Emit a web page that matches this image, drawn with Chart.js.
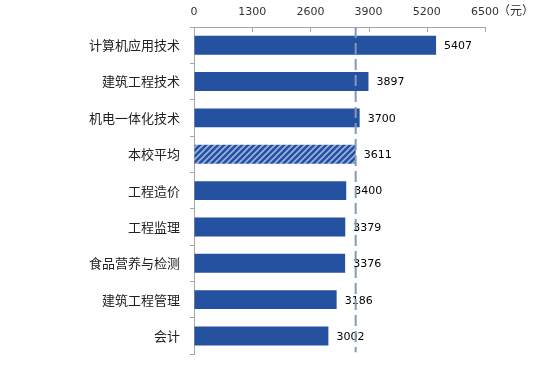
<!DOCTYPE html>
<html>
<head>
<meta charset="utf-8">
<script src="https://cdn.jsdelivr.net/npm/chart.js@4"></script>
<style>
  html, body { margin: 0; padding: 0; background: #fff; }
  #wrap { width: 547px; height: 372px; }
</style>
</head>
<body>
<div id="wrap"><canvas id="myChart"></canvas></div>
<script>
// data
const majors = ['计算机应用技术', '建筑工程技术', '机电一体化技术', '本校平均', '工程造价', '工程监理', '食品营养与检测', '建筑工程管理', '会计'];
const salary = [5407, 3897, 3700, 3611, 3400, 3379, 3376, 3186, 3002];
const avgIndex = 3;
const avgSalary = 3611;
const axisMax = 6500;
const axisStep = 1300;
const unitLabel = '（元）';

const blue = '#2451A0';
const fontCJK = '"Noto Sans CJK SC", "DejaVu Sans", sans-serif';
const fontNum = '"DejaVu Sans", "Liberation Sans", sans-serif';

// striped fill for the average bar
function makeHatch() {
  const c = document.createElement('canvas');
  c.width = 6; c.height = 6;
  const g = c.getContext('2d');
  g.fillStyle = blue;
  g.fillRect(0, 0, 6, 6);
  g.strokeStyle = '#9DB5E0';
  g.lineWidth = 1.6;
  g.beginPath();
  g.moveTo(-1, 7); g.lineTo(7, -1);
  g.moveTo(-4, 4); g.lineTo(4, -4);
  g.moveTo(2, 10); g.lineTo(10, 2);
  g.stroke();
  return g.createPattern(c, 'repeat');
}

const hatch = makeHatch();
const colors = salary.map((v, i) => i === avgIndex ? hatch : blue);

// value labels, inner ticks on top axis, average line
const extras = {
  id: 'extras',
  afterDatasetsDraw(chart) {
    const ctx = chart.ctx;
    const x = chart.scales.x;
    const area = chart.chartArea;
    ctx.save();

    // tick marks pointing down from top axis
    ctx.strokeStyle = '#A6A6A6';
    ctx.lineWidth = 1;
    for (let v = 0; v <= axisMax; v += axisStep) {
      const px = Math.round(x.getPixelForValue(v)) + 0.5;
      ctx.beginPath();
      ctx.moveTo(px, area.top);
      ctx.lineTo(px, area.top + 5);
      ctx.stroke();
    }

    // unit after last tick label
    ctx.fillStyle = '#333';
    ctx.font = '12px ' + fontCJK;
    ctx.textBaseline = 'middle';
    ctx.textAlign = 'left';
    ctx.fillText(unitLabel, x.getPixelForValue(axisMax) + 13, 10);

    // value labels
    const meta = chart.getDatasetMeta(0);
    ctx.fillStyle = '#000';
    ctx.font = '11px ' + fontNum;
    meta.data.forEach((bar, i) => {
      ctx.fillText(String(salary[i]), bar.x + 8, bar.y + 1);
    });

    // average dashed line
    const ax = x.getPixelForValue(avgSalary);
    ctx.strokeStyle = '#8797BA';
    ctx.lineWidth = 2;
    ctx.setLineDash([11, 5]);
    ctx.beginPath();
    ctx.moveTo(ax, area.top);
    ctx.lineTo(ax, area.bottom - 2);
    ctx.stroke();
    ctx.restore();
  }
};

const ctx = document.getElementById('myChart').getContext('2d');

// eslint-disable-next-line no-undef
new Chart(ctx, {
  type: 'bar',
  data: {
    labels: majors,
    datasets: [{
      data: salary,
      backgroundColor: colors,
      borderWidth: 0,
      barPercentage: 0.52,
      categoryPercentage: 1
    }]
  },
  options: {
    indexAxis: 'y',
    responsive: true,
    maintainAspectRatio: false,
    animation: false,
    layout: { padding: { left: 0, right: 62, top: 0, bottom: 12 } },
    plugins: {
      legend: { display: false },
      tooltip: { enabled: false }
    },
    scales: {
      x: {
        position: 'top',
        min: 0,
        max: axisMax,
        afterFit(scale) { scale.height = 27; },
        ticks: {
          stepSize: axisStep,
          padding: 8,
          color: '#333',
          font: { size: 11, family: fontNum },
          callback: (v) => String(v)
        },
        grid: { display: true, drawOnChartArea: false, drawTicks: false },
        border: { display: true, color: '#A6A6A6', width: 1 }
      },
      y: {
        afterFit(scale) { scale.width = 194; },
        ticks: {
          padding: 10,
          color: '#222',
          font: { size: 13, family: fontCJK }
        },
        grid: { display: true, drawOnChartArea: false, tickLength: 4, color: '#A6A6A6', offset: true },
        border: { display: true, color: '#A6A6A6', width: 1 }
      }
    }
  },
  plugins: [extras]
});
</script>
</body>
</html>
